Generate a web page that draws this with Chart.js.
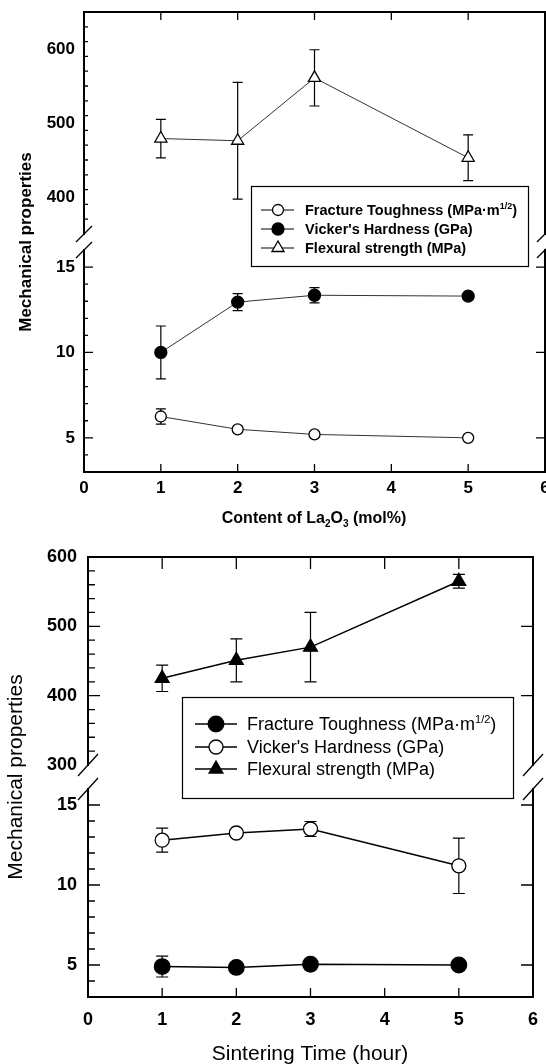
<!DOCTYPE html>
<html>
<head>
<meta charset="utf-8">
<script src="https://cdn.jsdelivr.net/npm/chart.js@4.4.1/dist/chart.umd.min.js"></script>
<style>
  html, body { margin: 0; padding: 0; background: #fff; }
  body { width: 546px; height: 1064px; position: relative; overflow: hidden; }
  canvas { position: absolute; left: 0; }
  #c1 { top: 0; }
  #c2 { top: 532px; }
</style>
</head>
<body>
<canvas id="c1" width="546" height="532"></canvas>
<canvas id="c2" width="546" height="532"></canvas>
<script>
// values
const xTicks = [0, 1, 2, 3, 4, 5, 6];
const xMarks = [1, 2, 3, 4, 5];
const lowerTicks = [5, 10, 15];

// top panel: content of La2O3 (mol%)
const la2o3Content = [1, 2, 3, 5];
const toughnessA = [6.25, 5.5, 5.2, 5.0];
const toughnessErrA = [0.45, 0, 0, 0];
const hardnessA = [10.0, 12.95, 13.35, 13.3];
const hardnessErrA = [1.55, 0.5, 0.45, 0];
const strengthA = [479, 476, 561, 453];
const strengthErrA = [26, 79, 38, 31];
const upperTicksA = [400, 500, 600];

// bottom panel: sintering time (hour)
const sinterHours = [1, 2, 3, 5];
const toughnessB = [4.9, 4.85, 5.05, 5.0];
const toughnessErrB = [0.65, 0, 0, 0];
const hardnessB = [12.8, 13.25, 13.5, 11.2];
const hardnessErrB = [0.75, 0, 0.47, 1.73];
const strengthB = [425, 451, 470, 565];
const strengthErrB = [19, 31, 50, 10];
const upperTicksB = [300, 400, 500, 600];

const legendLabels = ['Fracture Toughness (MPa\u00b7m^{1/2})', "Vicker's Hardness (GPa)", 'Flexural strength (MPa)'];
const yTitle = 'Mechanical properties';
const xTitleA = 'Content of La_{2}O_{3} (mol%)';
const xTitleB = 'Sintering Time (hour)';

const FAMILY = '"Liberation Sans", Arial, sans-serif';
const W = 546, H = 532;

function drawMarker(ctx, style, filled, r, x, y, bw) {
  ctx.beginPath();
  if (style === 'triangle') {
    for (let k = 0; k < 3; k++) {
      const a = k * 2 * Math.PI / 3;
      const px = x + Math.sin(a) * r, py = y - Math.cos(a) * r;
      if (k) ctx.lineTo(px, py); else ctx.moveTo(px, py);
    }
    ctx.closePath();
  } else {
    ctx.arc(x, y, r, 0, Math.PI * 2);
  }
  ctx.fillStyle = filled ? '#000' : '#fff';
  ctx.fill();
  ctx.lineWidth = bw;
  ctx.strokeStyle = '#000';
  ctx.stroke();
}

// text with ^{sup} and _{sub} parts
function richText(ctx, str, x, y, font, align) {
  const parts = [];
  const re = /([\^_])\{([^}]*)\}/g;
  let last = 0, m;
  while ((m = re.exec(str))) {
    if (m.index > last) parts.push({t: str.slice(last, m.index), k: ''});
    parts.push({t: m[2], k: m[1]});
    last = re.lastIndex;
  }
  if (last < str.length) parts.push({t: str.slice(last), k: ''});
  const fontFor = k => `${font.weight} ${k ? Math.round(font.size * 0.62) : font.size}px ${FAMILY}`;
  let total = 0;
  parts.forEach(pt => { ctx.font = fontFor(pt.k); pt.w = ctx.measureText(pt.t).width; total += pt.w; });
  let cx = align === 'center' ? x - total / 2 : x;
  ctx.textAlign = 'left';
  ctx.textBaseline = 'alphabetic';
  ctx.fillStyle = '#000';
  parts.forEach(pt => {
    ctx.font = fontFor(pt.k);
    const dy = pt.k === '^' ? -font.size * 0.42 : pt.k === '_' ? font.size * 0.25 : 0;
    ctx.fillText(pt.t, cx, y + dy);
    cx += pt.w;
  });
}

function buildPanel(p) {
  // pin every axis box to a fixed size so the plot frame lands where the figure has it
  const fix = size => s => {
    if (s.isHorizontal()) s.height = size; else s.width = size;
    s.paddingLeft = s.paddingRight = s.paddingTop = s.paddingBottom = 0;
  };
  const setTicks = list => s => { s.ticks = list.map(v => ({value: v})); };
  const tickFont = {family: FAMILY, size: p.tickSize, weight: p.tickWeight};
  const leftW = p.area.left, rightW = W - p.area.right;

  const datasets = p.series.map(s => ({
    label: s.label,
    data: p.x.map((v, i) => ({x: v, y: s.y[i]})),
    xAxisID: 'x',
    yAxisID: s.axis,
    borderColor: p.lineColor,
    borderWidth: p.lineWidth,
    pointStyle: s.style,
    pointRadius: s.r,
    pointHoverRadius: s.r,
    pointBackgroundColor: s.filled ? '#000' : '#fff',
    pointBorderColor: '#000',
    pointBorderWidth: 1.3,
    tension: 0,
    fill: false
  }));

  const segScale = (seg, pos, weight, labels) => ({
    type: 'linear', position: pos, stack: pos, stackWeight: seg.h, weight,
    min: seg.min, max: seg.max,
    afterBuildTicks: setTicks(seg.ticks),
    afterFit: fix(pos === 'left' ? leftW : rightW),
    grid: {display: false, drawTicks: false},
    border: {display: true, color: '#000', width: p.frame},
    ticks: {display: labels, color: '#000', font: tickFont, padding: p.yPad, callback: v => String(v)}
  });
  const gapScale = (pos, weight, withTitle) => ({
    type: 'linear', position: pos, stack: pos, stackWeight: p.gap, weight,
    afterFit: fix(pos === 'left' ? leftW : rightW),
    grid: {display: false, drawTicks: false},
    border: {display: false},
    ticks: {display: false},
    title: withTitle
      ? {display: true, text: yTitle, color: '#000', font: {family: FAMILY, size: p.yTitleSize, weight: p.titleWeight}, padding: {top: p.yTitlePad, bottom: 0}}
      : {display: false}
  });

  const deco = {
    id: 'deco',
    beforeDatasetsDraw(chart) {
      const ctx = chart.ctx, xs = chart.scales.x;
      ctx.save();
      ctx.strokeStyle = '#000';
      ctx.lineWidth = 1.2;
      p.series.forEach(s => {
        const ys = chart.scales[s.axis];
        p.x.forEach((xv, i) => {
          const e = s.err[i];
          if (!e) return;
          const px = xs.getPixelForValue(xv);
          const t = ys.getPixelForValue(s.y[i] + e), b = ys.getPixelForValue(s.y[i] - e);
          ctx.beginPath();
          ctx.moveTo(px, t); ctx.lineTo(px, b);
          ctx.moveTo(px - p.cap, t); ctx.lineTo(px + p.cap, t);
          ctx.moveTo(px - p.cap, b); ctx.lineTo(px + p.cap, b);
          ctx.stroke();
        });
      });
      ctx.restore();
    },
    afterDraw(chart) {
      const ctx = chart.ctx, a = chart.chartArea, xs = chart.scales.x;
      ctx.save();
      ctx.strokeStyle = '#000';
      ctx.lineWidth = 1.3;
      ctx.beginPath();
      // inward ticks on the y segments
      [['yUp', 'yUpR', p.upper], ['yLo', 'yLoR', p.lower]].forEach(([idL, idR, seg]) => {
        const sl = chart.scales[idL], sr = chart.scales[idR];
        const n = Math.round((seg.max - seg.min) / seg.minor);
        for (let k = 1; k < n; k++) {
          const v = seg.min + k * seg.minor;
          const major = seg.ticks.includes(v);
          const py = sl.getPixelForValue(v);
          ctx.moveTo(a.left, py); ctx.lineTo(a.left + (major ? p.majorLen : p.minorLen), py);
          if (major) { const pr = sr.getPixelForValue(v); ctx.moveTo(a.right, pr); ctx.lineTo(a.right - p.rightLen, pr); }
        }
      });
      // inward ticks on top and bottom
      xMarks.forEach(v => {
        const px = xs.getPixelForValue(v);
        ctx.moveTo(px, a.top); ctx.lineTo(px, a.top + p.topLen);
        ctx.moveTo(px, a.bottom); ctx.lineTo(px, a.bottom - p.bottomLen);
      });
      ctx.stroke();

      // axis break marks
      const yEnds = [chart.scales.yUp.bottom, chart.scales.yLo.top];
      ctx.beginPath();
      [a.left, a.right].forEach(bx => yEnds.forEach(by => {
        ctx.moveTo(bx - p.slash[0], by + p.slash[1]);
        ctx.lineTo(bx + p.slash[0], by - p.slash[1]);
      }));
      ctx.stroke();

      // legend
      const L = p.legend;
      ctx.fillStyle = '#fff';
      ctx.fillRect(L.x, L.y, L.w, L.h);
      ctx.lineWidth = 1.2;
      ctx.strokeRect(L.x + 0.5, L.y + 0.5, L.w, L.h);
      p.series.forEach((s, i) => {
        const ry = L.rows[i];
        ctx.beginPath();
        ctx.lineWidth = p.lineWidth;
        ctx.strokeStyle = '#000';
        ctx.moveTo(L.line[0], ry); ctx.lineTo(L.line[1], ry);
        ctx.stroke();
        drawMarker(ctx, s.style, s.filled, s.r, L.mark, ry, 1.3);
        richText(ctx, s.label, L.text, ry + L.font.size * 0.36, L.font, 'left');
      });

      // x axis title
      richText(ctx, p.xTitle, p.xTitlePos[0], p.xTitlePos[1], p.xTitleFont, 'center');
      ctx.restore();
    }
  };

  return new Chart(document.getElementById(p.canvas), {
    type: 'line',
    data: {datasets},
    options: {
      responsive: false,
      animation: false,
      events: [],
      layout: {padding: 0, autoPadding: false},
      plugins: {legend: {display: false}, tooltip: {enabled: false}},
      scales: {
        x: {
          type: 'linear', position: 'bottom', min: 0, max: 6,
          afterBuildTicks: setTicks(xTicks),
          afterFit: fix(H - p.area.bottom),
          grid: {display: false, drawTicks: false},
          border: {display: true, color: '#000', width: p.frame},
          ticks: {color: '#000', font: tickFont, padding: p.xPad, maxRotation: 0, autoSkip: false, callback: v => String(v)}
        },
        xTop: {
          type: 'linear', position: 'top', min: 0, max: 6,
          afterFit: fix(p.area.top),
          grid: {display: false, drawTicks: false},
          border: {display: true, color: '#000', width: p.frame},
          ticks: {display: false}
        },
        yUp: segScale(p.upper, 'left', 3, true),
        yGap: gapScale('left', 2, true),
        yLo: segScale(p.lower, 'left', 1, true),
        yUpR: segScale(p.upper, 'right', 1, false),
        yGapR: gapScale('right', 2, false),
        yLoR: segScale(p.lower, 'right', 3, false)
      }
    },
    plugins: [deco]
  });
}

buildPanel({
  canvas: 'c1',
  x: la2o3Content,
  area: {left: 84, right: 545, top: 12, bottom: 472},
  upper: {min: 350, max: 650, minor: 20, ticks: upperTicksA, h: 222},
  lower: {min: 3, max: 16, minor: 1, ticks: lowerTicks, h: 222},
  gap: 16,
  series: [
    {label: legendLabels[0], y: toughnessA, err: toughnessErrA, axis: 'yLo', style: 'circle', filled: false, r: 5.5},
    {label: legendLabels[1], y: hardnessA, err: hardnessErrA, axis: 'yLo', style: 'circle', filled: true, r: 6},
    {label: legendLabels[2], y: strengthA, err: strengthErrA, axis: 'yUp', style: 'triangle', filled: false, r: 7}
  ],
  lineColor: '#333', lineWidth: 1,
  frame: 2, cap: 5,
  tickSize: 17, tickWeight: 'bold', yPad: 9, xPad: 6,
  majorLen: 9, minorLen: 4, rightLen: 9, topLen: 8, bottomLen: 8,
  slash: [8, 8],
  titleWeight: 'bold', yTitleSize: 17, yTitlePad: 16,
  legend: {x: 251, y: 186, w: 277, h: 80, rows: [210, 229, 248], line: [261, 294], mark: 278, text: 305,
    font: {size: 14.5, weight: 'bold'}},
  xTitle: xTitleA, xTitlePos: [314, 523], xTitleFont: {size: 16, weight: 'bold'}
});

buildPanel({
  canvas: 'c2',
  x: sinterHours,
  area: {left: 88, right: 533, top: 25, bottom: 465},
  upper: {min: 300, max: 600, minor: 20, ticks: upperTicksB, h: 208},
  lower: {min: 3, max: 16, minor: 1, ticks: lowerTicks, h: 208},
  gap: 24,
  series: [
    {label: legendLabels[0], y: toughnessB, err: toughnessErrB, axis: 'yLo', style: 'circle', filled: true, r: 7.8},
    {label: legendLabels[1], y: hardnessB, err: hardnessErrB, axis: 'yLo', style: 'circle', filled: false, r: 7},
    {label: legendLabels[2], y: strengthB, err: strengthErrB, axis: 'yUp', style: 'triangle', filled: true, r: 8}
  ],
  lineColor: '#000', lineWidth: 1.5,
  frame: 2, cap: 6,
  tickSize: 18, tickWeight: 'bold', yPad: 11, xPad: 12,
  majorLen: 12, minorLen: 7, rightLen: 12, topLen: 12, bottomLen: 9,
  slash: [10, 11],
  titleWeight: 'normal', yTitleSize: 21, yTitlePad: 3.5,
  legend: {x: 182, y: 165, w: 331, h: 101, rows: [192, 215, 237], line: [195, 237], mark: 216, text: 247,
    font: {size: 18, weight: 'normal'}},
  xTitle: xTitleB, xTitlePos: [310, 528], xTitleFont: {size: 21, weight: 'normal'}
});
</script>
</body>
</html>
